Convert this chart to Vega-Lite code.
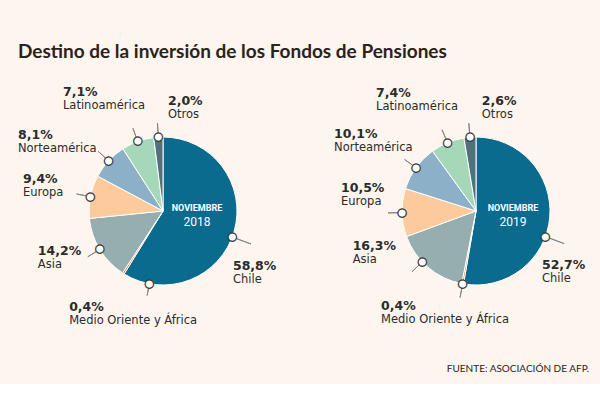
{
  "$schema": "https://vega.github.io/schema/vega-lite/v6.json",
  "background": "#fdf5ee",
  "padding": {"left": 17, "top": 43, "right": 12, "bottom": 10},
  "title": {"text": "Destino de la inversión de los Fondos de Pensiones", "anchor": "start", "font": "Lato", "fontSize": 19, "fontWeight": "bold", "color": "#2b221b", "offset": 24},
  "datasets": {
    "fondos": [
      {"anio": "2018", "region": "Chile", "valor": 58.8, "n": 1},
      {"anio": "2018", "region": "Medio Oriente y África", "valor": 0.4, "n": 2},
      {"anio": "2018", "region": "Asia", "valor": 14.2, "n": 3},
      {"anio": "2018", "region": "Europa", "valor": 9.4, "n": 4},
      {"anio": "2018", "region": "Norteamérica", "valor": 8.1, "n": 5},
      {"anio": "2018", "region": "Latinoamérica", "valor": 7.1, "n": 6},
      {"anio": "2018", "region": "Otros", "valor": 2.0, "n": 7},
      {"anio": "2019", "region": "Chile", "valor": 52.7, "n": 1},
      {"anio": "2019", "region": "Medio Oriente y África", "valor": 0.4, "n": 2},
      {"anio": "2019", "region": "Asia", "valor": 16.3, "n": 3},
      {"anio": "2019", "region": "Europa", "valor": 10.5, "n": 4},
      {"anio": "2019", "region": "Norteamérica", "valor": 10.1, "n": 5},
      {"anio": "2019", "region": "Latinoamérica", "valor": 7.4, "n": 6},
      {"anio": "2019", "region": "Otros", "valor": 2.6, "n": 7}
    ]
  },
  "bounds": "flush",
  "spacing": 55,
  "hconcat": [
    {
      "width": 290,
      "height": 246,
      "data": {"name": "fondos"},
      "transform": [{"filter": "datum.anio == '2018'"}],
      "resolve": {"scale": {"theta": "independent"}},
      "layer": [
        {"mark": {"type": "arc", "outerRadius": 74, "stroke": "#ffffff", "strokeWidth": 1},
         "encoding": {"theta": {"field": "valor", "type": "quantitative", "stack": true}, "order": {"field": "n", "type": "quantitative"},
           "color": {"field": "region", "type": "nominal", "legend": null, "scale": {"domain": ["Chile", "Medio Oriente y África", "Asia", "Europa", "Norteamérica", "Latinoamérica", "Otros"], "range": ["#0a6b8e", "#e8772e", "#97aeb1", "#fdca9c", "#8db0c9", "#a4d8b9", "#52707c"]}}}},
        {"mark": {"type": "arc", "innerRadius": 78, "outerRadius": 88, "padAngle": 3.1, "fillOpacity": 0, "stroke": "#808080", "strokeWidth": 0.9},
         "encoding": {"theta": {"field": "valor", "type": "quantitative", "stack": true}, "order": {"field": "n", "type": "quantitative"},
           "strokeOpacity": {"condition": {"test": "datum.region == 'Chile' || datum.region == 'Medio Oriente y África'", "value": 0}, "value": 1}}},
        {"mark": {"type": "arc", "innerRadius": 78, "outerRadius": 94, "padAngle": 3.1, "fillOpacity": 0, "stroke": "#808080", "strokeWidth": 0.9, "thetaOffset": 1.006},
         "encoding": {"theta": {"field": "valor", "type": "quantitative", "stack": true, "scale": {"domain": [0, 200]}}, "order": {"field": "n", "type": "quantitative"},
           "strokeOpacity": {"condition": {"test": "datum.region == 'Chile'", "value": 1}, "value": 0}}},
        {"mark": {"type": "arc", "innerRadius": 78, "outerRadius": 86, "padAngle": 3.1, "fillOpacity": 0, "stroke": "#808080", "strokeWidth": 0.9, "thetaOffset": -0.38},
         "encoding": {"theta": {"field": "valor", "type": "quantitative", "stack": true}, "order": {"field": "n", "type": "quantitative"},
           "strokeOpacity": {"condition": {"test": "datum.region == 'Medio Oriente y África'", "value": 1}, "value": 0}}},
        {"mark": {"type": "text", "font": "DejaVu Sans", "fontSize": 11, "baseline": "middle", "align": "center", "fill": "#ffffff", "stroke": "#3a3a3a", "strokeWidth": 1.2},
         "encoding": {"theta": {"field": "valor", "type": "quantitative", "stack": true}, "order": {"field": "n", "type": "quantitative"}, "radius": {"value": 74},
           "text": {"condition": {"test": "datum.region == 'Chile' || datum.region == 'Medio Oriente y África'", "value": ""}, "value": "●"}}},
        {"mark": {"type": "text", "font": "DejaVu Sans", "fontSize": 11, "baseline": "middle", "align": "center", "fill": "#ffffff", "stroke": "#3a3a3a", "strokeWidth": 1.2, "thetaOffset": 0.084},
         "encoding": {"theta": {"field": "valor", "type": "quantitative", "stack": true}, "order": {"field": "n", "type": "quantitative"}, "radius": {"value": 74},
           "text": {"condition": {"test": "datum.region == 'Chile'", "value": "●"}, "value": ""}}},
        {"mark": {"type": "text", "font": "DejaVu Sans", "fontSize": 11, "baseline": "middle", "align": "center", "fill": "#ffffff", "stroke": "#3a3a3a", "strokeWidth": 1.2, "thetaOffset": -0.38},
         "encoding": {"theta": {"field": "valor", "type": "quantitative", "stack": true}, "order": {"field": "n", "type": "quantitative"}, "radius": {"value": 74},
           "text": {"condition": {"test": "datum.region == 'Medio Oriente y África'", "value": "●"}, "value": ""}}},

        {"mark": {"type": "text", "align": "left", "baseline": "middle", "font": "DejaVu Sans", "fontSize": 12.5, "fontWeight": "bold", "color": "#2b2b2b", "dx": -18, "dy": 21.5, "thetaOffset": 0.084},
         "encoding": {"theta": {"field": "valor", "type": "quantitative", "stack": true}, "order": {"field": "n", "type": "quantitative"}, "radius": {"value": {"expr": "datum.region == 'Chile' ? 94 : 0"}},
           "text": {"condition": {"test": "datum.region == 'Chile'", "field": "valor", "type": "quantitative", "format": "$.1f"}, "value": ""}}},
        {"mark": {"type": "text", "align": "left", "baseline": "middle", "font": "DejaVu Sans", "fontSize": 11.5, "color": "#2b2b2b", "dx": -18, "dy": 35.5, "thetaOffset": 0.084},
         "encoding": {"theta": {"field": "valor", "type": "quantitative", "stack": true}, "order": {"field": "n", "type": "quantitative"}, "radius": {"value": {"expr": "datum.region == 'Chile' ? 94 : 0"}},
           "text": {"condition": {"test": "datum.region == 'Chile'", "field": "region", "type": "nominal"}, "value": ""}}},

        {"mark": {"type": "text", "align": "left", "baseline": "middle", "font": "DejaVu Sans", "fontSize": 12.5, "fontWeight": "bold", "color": "#2b2b2b", "dx": -78, "dy": 11, "thetaOffset": -0.38},
         "encoding": {"theta": {"field": "valor", "type": "quantitative", "stack": true}, "order": {"field": "n", "type": "quantitative"}, "radius": {"value": {"expr": "datum.region == 'Medio Oriente y África' ? 86 : 0"}},
           "text": {"condition": {"test": "datum.region == 'Medio Oriente y África'", "field": "valor", "type": "quantitative", "format": "$.1f"}, "value": ""}}},
        {"mark": {"type": "text", "align": "left", "baseline": "middle", "font": "DejaVu Sans", "fontSize": 11.5, "color": "#2b2b2b", "dx": -78, "dy": 25, "thetaOffset": -0.38},
         "encoding": {"theta": {"field": "valor", "type": "quantitative", "stack": true}, "order": {"field": "n", "type": "quantitative"}, "radius": {"value": {"expr": "datum.region == 'Medio Oriente y África' ? 86 : 0"}},
           "text": {"condition": {"test": "datum.region == 'Medio Oriente y África'", "field": "region", "type": "nominal"}, "value": ""}}},

        {"mark": {"type": "text", "align": "left", "baseline": "middle", "font": "DejaVu Sans", "fontSize": 12.5, "fontWeight": "bold", "color": "#2b2b2b", "dx": -50, "dy": -5.5},
         "encoding": {"theta": {"field": "valor", "type": "quantitative", "stack": true}, "order": {"field": "n", "type": "quantitative"}, "radius": {"value": {"expr": "datum.region == 'Asia' ? 88 : 0"}},
           "text": {"condition": {"test": "datum.region == 'Asia'", "field": "valor", "type": "quantitative", "format": "$.1f"}, "value": ""}}},
        {"mark": {"type": "text", "align": "left", "baseline": "middle", "font": "DejaVu Sans", "fontSize": 11.5, "color": "#2b2b2b", "dx": -50, "dy": 8.5},
         "encoding": {"theta": {"field": "valor", "type": "quantitative", "stack": true}, "order": {"field": "n", "type": "quantitative"}, "radius": {"value": {"expr": "datum.region == 'Asia' ? 88 : 0"}},
           "text": {"condition": {"test": "datum.region == 'Asia'", "field": "region", "type": "nominal"}, "value": ""}}},

        {"mark": {"type": "text", "align": "left", "baseline": "middle", "font": "DejaVu Sans", "fontSize": 12.5, "fontWeight": "bold", "color": "#2b2b2b", "dx": -53.7, "dy": -14.5},
         "encoding": {"theta": {"field": "valor", "type": "quantitative", "stack": true}, "order": {"field": "n", "type": "quantitative"}, "radius": {"value": {"expr": "datum.region == 'Europa' ? 88 : 0"}},
           "text": {"condition": {"test": "datum.region == 'Europa'", "field": "valor", "type": "quantitative", "format": "$.1f"}, "value": ""}}},
        {"mark": {"type": "text", "align": "left", "baseline": "middle", "font": "DejaVu Sans", "fontSize": 11.5, "color": "#2b2b2b", "dx": -53.7, "dy": -0.5},
         "encoding": {"theta": {"field": "valor", "type": "quantitative", "stack": true}, "order": {"field": "n", "type": "quantitative"}, "radius": {"value": {"expr": "datum.region == 'Europa' ? 88 : 0"}},
           "text": {"condition": {"test": "datum.region == 'Europa'", "field": "region", "type": "nominal"}, "value": ""}}},

        {"mark": {"type": "text", "align": "left", "baseline": "middle", "font": "DejaVu Sans", "fontSize": 12.5, "fontWeight": "bold", "color": "#2b2b2b", "dx": -80.3, "dy": -16.8},
         "encoding": {"theta": {"field": "valor", "type": "quantitative", "stack": true}, "order": {"field": "n", "type": "quantitative"}, "radius": {"value": {"expr": "datum.region == 'Norteamérica' ? 88 : 0"}},
           "text": {"condition": {"test": "datum.region == 'Norteamérica'", "field": "valor", "type": "quantitative", "format": "$.1f"}, "value": ""}}},
        {"mark": {"type": "text", "align": "left", "baseline": "middle", "font": "DejaVu Sans", "fontSize": 11.5, "color": "#2b2b2b", "dx": -80.3, "dy": -2.8},
         "encoding": {"theta": {"field": "valor", "type": "quantitative", "stack": true}, "order": {"field": "n", "type": "quantitative"}, "radius": {"value": {"expr": "datum.region == 'Norteamérica' ? 88 : 0"}},
           "text": {"condition": {"test": "datum.region == 'Norteamérica'", "field": "region", "type": "nominal"}, "value": ""}}},

        {"mark": {"type": "text", "align": "left", "baseline": "middle", "font": "DejaVu Sans", "fontSize": 12.5, "fontWeight": "bold", "color": "#2b2b2b", "dx": -70, "dy": -35.8},
         "encoding": {"theta": {"field": "valor", "type": "quantitative", "stack": true}, "order": {"field": "n", "type": "quantitative"}, "radius": {"value": {"expr": "datum.region == 'Latinoamérica' ? 88 : 0"}},
           "text": {"condition": {"test": "datum.region == 'Latinoamérica'", "field": "valor", "type": "quantitative", "format": "$.1f"}, "value": ""}}},
        {"mark": {"type": "text", "align": "left", "baseline": "middle", "font": "DejaVu Sans", "fontSize": 11.5, "color": "#2b2b2b", "dx": -70, "dy": -21.8},
         "encoding": {"theta": {"field": "valor", "type": "quantitative", "stack": true}, "order": {"field": "n", "type": "quantitative"}, "radius": {"value": {"expr": "datum.region == 'Latinoamérica' ? 88 : 0"}},
           "text": {"condition": {"test": "datum.region == 'Latinoamérica'", "field": "region", "type": "nominal"}, "value": ""}}},

        {"mark": {"type": "text", "align": "left", "baseline": "middle", "font": "DejaVu Sans", "fontSize": 12.5, "fontWeight": "bold", "color": "#2b2b2b", "dx": 10.5, "dy": -22.5},
         "encoding": {"theta": {"field": "valor", "type": "quantitative", "stack": true}, "order": {"field": "n", "type": "quantitative"}, "radius": {"value": {"expr": "datum.region == 'Otros' ? 88 : 0"}},
           "text": {"condition": {"test": "datum.region == 'Otros'", "field": "valor", "type": "quantitative", "format": "$.1f"}, "value": ""}}},
        {"mark": {"type": "text", "align": "left", "baseline": "middle", "font": "DejaVu Sans", "fontSize": 11.5, "color": "#2b2b2b", "dx": 10.5, "dy": -8.5},
         "encoding": {"theta": {"field": "valor", "type": "quantitative", "stack": true}, "order": {"field": "n", "type": "quantitative"}, "radius": {"value": {"expr": "datum.region == 'Otros' ? 88 : 0"}},
           "text": {"condition": {"test": "datum.region == 'Otros'", "field": "region", "type": "nominal"}, "value": ""}}},

        {"transform": [{"aggregate": [{"op": "count", "as": "k"}], "groupby": ["anio"]}],
         "mark": {"type": "text", "text": "NOVIEMBRE", "font": "Roboto", "fontWeight": "bold", "fontSize": 9, "color": "#ffffff", "dx": 34, "dy": -3, "baseline": "middle", "align": "center"},
         "encoding": {}},
        {"transform": [{"aggregate": [{"op": "count", "as": "k"}], "groupby": ["anio"]}],
         "mark": {"type": "text", "font": "Roboto", "fontSize": 12, "color": "#ffffff", "dx": 34, "dy": 11, "baseline": "middle", "align": "center"},
         "encoding": {"text": {"field": "anio", "type": "nominal"}}}
      ]
    },
    {
      "width": 226,
      "height": 246,
      "title": {"text": "FUENTE: ASOCIACIÓN DE AFP.", "orient": "bottom", "anchor": "end", "font": "Lato", "fontSize": 10, "fontWeight": "normal", "color": "#2b221b", "offset": 30},
      "data": {"name": "fondos"},
      "transform": [{"filter": "datum.anio == '2019'"}],
      "resolve": {"scale": {"theta": "independent"}},
      "layer": [
        {"mark": {"type": "arc", "outerRadius": 74, "stroke": "#ffffff", "strokeWidth": 1},
         "encoding": {"theta": {"field": "valor", "type": "quantitative", "stack": true}, "order": {"field": "n", "type": "quantitative"},
           "color": {"field": "region", "type": "nominal", "legend": null, "scale": {"domain": ["Chile", "Medio Oriente y África", "Asia", "Europa", "Norteamérica", "Latinoamérica", "Otros"], "range": ["#0a6b8e", "#e8772e", "#97aeb1", "#fdca9c", "#8db0c9", "#a4d8b9", "#52707c"]}}}},
        {"mark": {"type": "arc", "innerRadius": 78, "outerRadius": 88, "padAngle": 3.1, "fillOpacity": 0, "stroke": "#808080", "strokeWidth": 0.9},
         "encoding": {"theta": {"field": "valor", "type": "quantitative", "stack": true}, "order": {"field": "n", "type": "quantitative"},
           "strokeOpacity": {"condition": {"test": "datum.region == 'Chile' || datum.region == 'Asia'", "value": 0}, "value": 1}}},
        {"mark": {"type": "arc", "innerRadius": 78, "outerRadius": 94, "padAngle": 3.1, "fillOpacity": 0, "stroke": "#808080", "strokeWidth": 0.9, "thetaOffset": 1.097},
         "encoding": {"theta": {"field": "valor", "type": "quantitative", "stack": true, "scale": {"domain": [0, 200]}}, "order": {"field": "n", "type": "quantitative"},
           "strokeOpacity": {"condition": {"test": "datum.region == 'Chile'", "value": 1}, "value": 0}}},
        {"mark": {"type": "arc", "innerRadius": 78, "outerRadius": 88, "padAngle": 3.1, "fillOpacity": 0, "stroke": "#808080", "strokeWidth": 0.9, "thetaOffset": 0.105},
         "encoding": {"theta": {"field": "valor", "type": "quantitative", "stack": true}, "order": {"field": "n", "type": "quantitative"},
           "strokeOpacity": {"condition": {"test": "datum.region == 'Asia'", "value": 1}, "value": 0}}},
        {"mark": {"type": "text", "font": "DejaVu Sans", "fontSize": 11, "baseline": "middle", "align": "center", "fill": "#ffffff", "stroke": "#3a3a3a", "strokeWidth": 1.2},
         "encoding": {"theta": {"field": "valor", "type": "quantitative", "stack": true}, "order": {"field": "n", "type": "quantitative"}, "radius": {"value": 74},
           "text": {"condition": {"test": "datum.region == 'Chile' || datum.region == 'Asia'", "value": ""}, "value": "●"}}},
        {"mark": {"type": "text", "font": "DejaVu Sans", "fontSize": 11, "baseline": "middle", "align": "center", "fill": "#ffffff", "stroke": "#3a3a3a", "strokeWidth": 1.2, "thetaOffset": 0.269},
         "encoding": {"theta": {"field": "valor", "type": "quantitative", "stack": true}, "order": {"field": "n", "type": "quantitative"}, "radius": {"value": 74},
           "text": {"condition": {"test": "datum.region == 'Chile'", "value": "●"}, "value": ""}}},
        {"mark": {"type": "text", "font": "DejaVu Sans", "fontSize": 11, "baseline": "middle", "align": "center", "fill": "#ffffff", "stroke": "#3a3a3a", "strokeWidth": 1.2, "thetaOffset": 0.105},
         "encoding": {"theta": {"field": "valor", "type": "quantitative", "stack": true}, "order": {"field": "n", "type": "quantitative"}, "radius": {"value": 74},
           "text": {"condition": {"test": "datum.region == 'Asia'", "value": "●"}, "value": ""}}},

        {"mark": {"type": "text", "align": "left", "baseline": "middle", "font": "DejaVu Sans", "fontSize": 12.5, "fontWeight": "bold", "color": "#2b2b2b", "dx": -22.2, "dy": 21.9, "thetaOffset": 0.269},
         "encoding": {"theta": {"field": "valor", "type": "quantitative", "stack": true}, "order": {"field": "n", "type": "quantitative"}, "radius": {"value": {"expr": "datum.region == 'Chile' ? 94 : 0"}},
           "text": {"condition": {"test": "datum.region == 'Chile'", "field": "valor", "type": "quantitative", "format": "$.1f"}, "value": ""}}},
        {"mark": {"type": "text", "align": "left", "baseline": "middle", "font": "DejaVu Sans", "fontSize": 11.5, "color": "#2b2b2b", "dx": -22.2, "dy": 35.9, "thetaOffset": 0.269},
         "encoding": {"theta": {"field": "valor", "type": "quantitative", "stack": true}, "order": {"field": "n", "type": "quantitative"}, "radius": {"value": {"expr": "datum.region == 'Chile' ? 94 : 0"}},
           "text": {"condition": {"test": "datum.region == 'Chile'", "field": "region", "type": "nominal"}, "value": ""}}},

        {"mark": {"type": "text", "align": "left", "baseline": "middle", "font": "DejaVu Sans", "fontSize": 12.5, "fontWeight": "bold", "color": "#2b2b2b", "dx": -79, "dy": 8.5},
         "encoding": {"theta": {"field": "valor", "type": "quantitative", "stack": true}, "order": {"field": "n", "type": "quantitative"}, "radius": {"value": {"expr": "datum.region == 'Medio Oriente y África' ? 88 : 0"}},
           "text": {"condition": {"test": "datum.region == 'Medio Oriente y África'", "field": "valor", "type": "quantitative", "format": "$.1f"}, "value": ""}}},
        {"mark": {"type": "text", "align": "left", "baseline": "middle", "font": "DejaVu Sans", "fontSize": 11.5, "color": "#2b2b2b", "dx": -79, "dy": 22.5},
         "encoding": {"theta": {"field": "valor", "type": "quantitative", "stack": true}, "order": {"field": "n", "type": "quantitative"}, "radius": {"value": {"expr": "datum.region == 'Medio Oriente y África' ? 88 : 0"}},
           "text": {"condition": {"test": "datum.region == 'Medio Oriente y África'", "field": "region", "type": "nominal"}, "value": ""}}},

        {"mark": {"type": "text", "align": "left", "baseline": "middle", "font": "DejaVu Sans", "fontSize": 12.5, "fontWeight": "bold", "color": "#2b2b2b", "dx": -59.5, "dy": -25.5, "thetaOffset": 0.105},
         "encoding": {"theta": {"field": "valor", "type": "quantitative", "stack": true}, "order": {"field": "n", "type": "quantitative"}, "radius": {"value": {"expr": "datum.region == 'Asia' ? 88 : 0"}},
           "text": {"condition": {"test": "datum.region == 'Asia'", "field": "valor", "type": "quantitative", "format": "$.1f"}, "value": ""}}},
        {"mark": {"type": "text", "align": "left", "baseline": "middle", "font": "DejaVu Sans", "fontSize": 11.5, "color": "#2b2b2b", "dx": -59.5, "dy": -11.5, "thetaOffset": 0.105},
         "encoding": {"theta": {"field": "valor", "type": "quantitative", "stack": true}, "order": {"field": "n", "type": "quantitative"}, "radius": {"value": {"expr": "datum.region == 'Asia' ? 88 : 0"}},
           "text": {"condition": {"test": "datum.region == 'Asia'", "field": "region", "type": "nominal"}, "value": ""}}},

        {"mark": {"type": "text", "align": "left", "baseline": "middle", "font": "DejaVu Sans", "fontSize": 12.5, "fontWeight": "bold", "color": "#2b2b2b", "dx": -47, "dy": -25.2},
         "encoding": {"theta": {"field": "valor", "type": "quantitative", "stack": true}, "order": {"field": "n", "type": "quantitative"}, "radius": {"value": {"expr": "datum.region == 'Europa' ? 88 : 0"}},
           "text": {"condition": {"test": "datum.region == 'Europa'", "field": "valor", "type": "quantitative", "format": "$.1f"}, "value": ""}}},
        {"mark": {"type": "text", "align": "left", "baseline": "middle", "font": "DejaVu Sans", "fontSize": 11.5, "color": "#2b2b2b", "dx": -47, "dy": -11.2},
         "encoding": {"theta": {"field": "valor", "type": "quantitative", "stack": true}, "order": {"field": "n", "type": "quantitative"}, "radius": {"value": {"expr": "datum.region == 'Europa' ? 88 : 0"}},
           "text": {"condition": {"test": "datum.region == 'Europa'", "field": "region", "type": "nominal"}, "value": ""}}},

        {"mark": {"type": "text", "align": "left", "baseline": "middle", "font": "DejaVu Sans", "fontSize": 12.5, "fontWeight": "bold", "color": "#2b2b2b", "dx": -70.6, "dy": -25},
         "encoding": {"theta": {"field": "valor", "type": "quantitative", "stack": true}, "order": {"field": "n", "type": "quantitative"}, "radius": {"value": {"expr": "datum.region == 'Norteamérica' ? 88 : 0"}},
           "text": {"condition": {"test": "datum.region == 'Norteamérica'", "field": "valor", "type": "quantitative", "format": "$.1f"}, "value": ""}}},
        {"mark": {"type": "text", "align": "left", "baseline": "middle", "font": "DejaVu Sans", "fontSize": 11.5, "color": "#2b2b2b", "dx": -70.6, "dy": -11},
         "encoding": {"theta": {"field": "valor", "type": "quantitative", "stack": true}, "order": {"field": "n", "type": "quantitative"}, "radius": {"value": {"expr": "datum.region == 'Norteamérica' ? 88 : 0"}},
           "text": {"condition": {"test": "datum.region == 'Norteamérica'", "field": "region", "type": "nominal"}, "value": ""}}},

        {"mark": {"type": "text", "align": "left", "baseline": "middle", "font": "DejaVu Sans", "fontSize": 12.5, "fontWeight": "bold", "color": "#2b2b2b", "dx": -66, "dy": -37},
         "encoding": {"theta": {"field": "valor", "type": "quantitative", "stack": true}, "order": {"field": "n", "type": "quantitative"}, "radius": {"value": {"expr": "datum.region == 'Latinoamérica' ? 88 : 0"}},
           "text": {"condition": {"test": "datum.region == 'Latinoamérica'", "field": "valor", "type": "quantitative", "format": "$.1f"}, "value": ""}}},
        {"mark": {"type": "text", "align": "left", "baseline": "middle", "font": "DejaVu Sans", "fontSize": 11.5, "color": "#2b2b2b", "dx": -66, "dy": -23},
         "encoding": {"theta": {"field": "valor", "type": "quantitative", "stack": true}, "order": {"field": "n", "type": "quantitative"}, "radius": {"value": {"expr": "datum.region == 'Latinoamérica' ? 88 : 0"}},
           "text": {"condition": {"test": "datum.region == 'Latinoamérica'", "field": "region", "type": "nominal"}, "value": ""}}},

        {"mark": {"type": "text", "align": "left", "baseline": "middle", "font": "DejaVu Sans", "fontSize": 12.5, "fontWeight": "bold", "color": "#2b2b2b", "dx": 13, "dy": -22.5},
         "encoding": {"theta": {"field": "valor", "type": "quantitative", "stack": true}, "order": {"field": "n", "type": "quantitative"}, "radius": {"value": {"expr": "datum.region == 'Otros' ? 88 : 0"}},
           "text": {"condition": {"test": "datum.region == 'Otros'", "field": "valor", "type": "quantitative", "format": "$.1f"}, "value": ""}}},
        {"mark": {"type": "text", "align": "left", "baseline": "middle", "font": "DejaVu Sans", "fontSize": 11.5, "color": "#2b2b2b", "dx": 13, "dy": -8.5},
         "encoding": {"theta": {"field": "valor", "type": "quantitative", "stack": true}, "order": {"field": "n", "type": "quantitative"}, "radius": {"value": {"expr": "datum.region == 'Otros' ? 88 : 0"}},
           "text": {"condition": {"test": "datum.region == 'Otros'", "field": "region", "type": "nominal"}, "value": ""}}},

        {"transform": [{"aggregate": [{"op": "count", "as": "k"}], "groupby": ["anio"]}],
         "mark": {"type": "text", "text": "NOVIEMBRE", "font": "Roboto", "fontWeight": "bold", "fontSize": 9, "color": "#ffffff", "dx": 37, "dy": -3, "baseline": "middle", "align": "center"},
         "encoding": {}},
        {"transform": [{"aggregate": [{"op": "count", "as": "k"}], "groupby": ["anio"]}],
         "mark": {"type": "text", "font": "Roboto", "fontSize": 12, "color": "#ffffff", "dx": 37, "dy": 11, "baseline": "middle", "align": "center"},
         "encoding": {"text": {"field": "anio", "type": "nominal"}}}
      ]
    }
  ],
  "config": {
    "view": {"stroke": null},
    "locale": {"number": {"decimal": ",", "thousands": ".", "grouping": [3], "currency": ["", "%"]}}
  }
}
